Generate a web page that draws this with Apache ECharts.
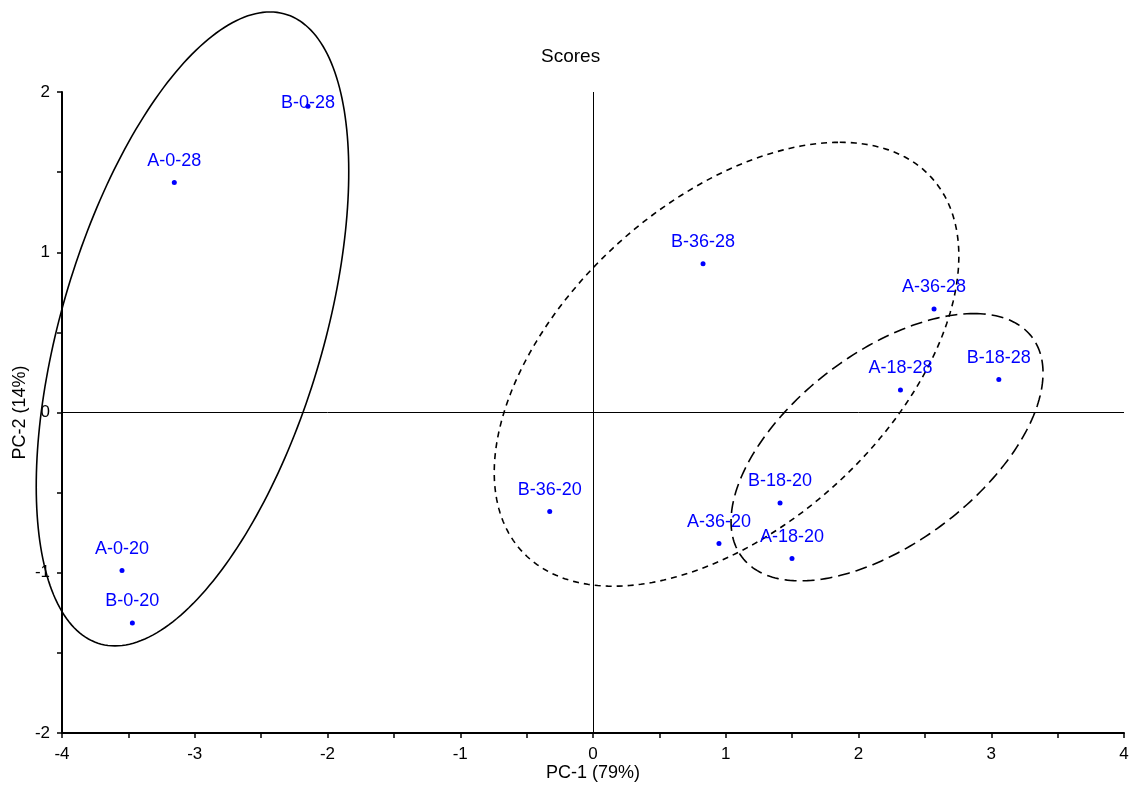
<!DOCTYPE html>
<html><head><meta charset="utf-8">
<script src="https://cdn.jsdelivr.net/npm/echarts@6/dist/echarts.min.js"></script>
<style>html,body{margin:0;padding:0;background:#fff}#c{width:1132px;height:792px}</style>
</head><body><div id="c"></div>
<script>
// ---- data ----
const sampleNames = ['A-0-28','B-0-28','A-0-20','B-0-20','B-36-28','A-36-28','A-18-28','B-18-28','B-36-20','B-18-20','A-36-20','A-18-20'];
const pc1 = [-3.154,-2.147,-3.548,-3.470,0.829,2.569,2.316,3.057,-0.326,1.409,0.949,1.499];
const pc2 = [1.435,1.911,-0.986,-1.313,0.928,0.646,0.141,0.206,-0.618,-0.564,-0.817,-0.911];
// confidence ellipses: centre and two conjugate semi-axis vectors (data units)
const ellipseCenterX = [-3.017, 1.006, 2.215];
const ellipseCenterY = [0.5215, 0.301, -0.2165];
const ellipseAxisU = [[0.584, 1.978], [0.853, 1.385], [0.653, 0.834]];
const ellipseAxisV = [[1.022, 0], [1.528, 0], [0.977, 0]];
const ellipseDash = [null, [6, 5], [12, 6]];
const xRange = [-4, 4];
const yRange = [-2, 2];
const titleText = 'Scores';
const xName = 'PC-1 (79%)';
const yName = 'PC-2 (14%)';

const FONT = '"Liberation Sans", Arial, sans-serif';
const chart = echarts.init(document.getElementById('c'), null, {renderer: 'canvas'});

const scatterData = sampleNames.map((n, i) => {
  const item = {name: n, value: [pc1[i], pc2[i]]};
  if (n === 'B-0-28') item.label = {position: 'inside', offset: [0, -3]};
  return item;
});
const ellipseData = ellipseCenterX.map((cx, i) => [cx, ellipseCenterY[i]]);

const intLabel = v => (Math.abs(v - Math.round(v)) < 1e-9 ? String(Math.round(v)) : '');

const axisCommon = {
  type: 'value', interval: 0.5,
  axisLine: {onZero: false, lineStyle: {color: '#000', width: 2}},
  axisTick: {show: true, inside: false, length: 5, lineStyle: {color: '#000', width: 1.5}},
  axisLabel: {color: '#000', fontSize: 17, fontFamily: FONT, formatter: intLabel, showMinLabel: true, showMaxLabel: true},
  splitLine: {show: false},
  nameLocation: 'middle',
  nameMoveOverlap: false,
  nameTextStyle: {color: '#000', fontSize: 18, fontFamily: FONT}
};

chart.setOption({
  animation: false,
  backgroundColor: '#fff',
  title: {text: titleText, left: 536, top: 42, textStyle: {color: '#000', fontSize: 19, fontWeight: 'normal', fontFamily: FONT}},
  grid: {left: 62, right: 8, top: 92, bottom: 59, containLabel: false, outerBoundsMode: 'none'},
  xAxis: Object.assign({}, axisCommon, {min: xRange[0], max: xRange[1], name: xName, nameGap: 31,
    axisLabel: Object.assign({}, axisCommon.axisLabel, {margin: 13})}),
  yAxis: Object.assign({}, axisCommon, {min: yRange[0], max: yRange[1], name: yName, nameGap: 33,
    axisLabel: Object.assign({}, axisCommon.axisLabel, {margin: 12})}),
  series: [
    {
      type: 'custom',
      clip: false,
      silent: true,
      data: ellipseData,
      encode: {x: 0, y: 1},
      renderItem: function (params, api) {
        const i = params.dataIndex;
        const cx = api.value(0), cy = api.value(1);
        const U = ellipseAxisU[i], V = ellipseAxisV[i];
        const pts = [];
        const N = 240;
        for (let k = 0; k <= N; k++) {
          const t = 2 * Math.PI * k / N;
          const c = Math.cos(t), s = Math.sin(t);
          pts.push(api.coord([cx + U[0] * c + V[0] * s, cy + U[1] * c + V[1] * s]));
        }
        return {
          type: 'polyline',
          shape: {points: pts},
          style: {fill: null, stroke: '#000', lineWidth: 1.6, lineDash: ellipseDash[i] || null}
        };
      },
      z: 2
    },
    {
      type: 'scatter',
      data: scatterData,
      symbol: 'circle',
      symbolSize: 5,
      itemStyle: {color: '#0000ff', opacity: 1},
      label: {show: true, position: 'top', distance: 10, formatter: '{b}', color: '#0000ff', fontSize: 18, fontFamily: FONT},
      z: 3,
      markLine: {
        silent: true, symbol: ['none', 'none'],
        label: {show: false},
        lineStyle: {color: '#000', width: 1, type: 'solid', opacity: 1},
        data: [{xAxis: 0}, {yAxis: 0}]
      }
    }
  ]
});
</script></body></html>
